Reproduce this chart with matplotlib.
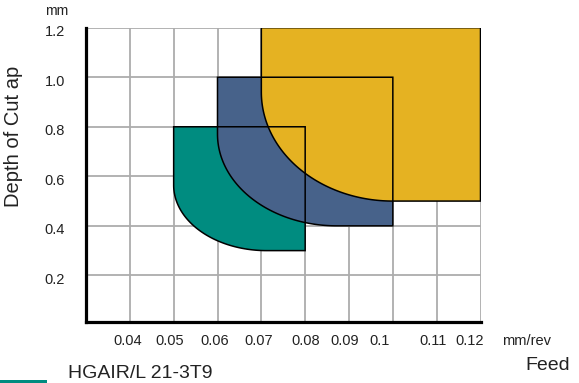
import numpy as np
import matplotlib
matplotlib.use("Agg")
import matplotlib.pyplot as plt
from matplotlib.patches import Polygon, Rectangle
from matplotlib.transforms import ScaledTranslation

plt.rcParams["font.family"] = ["Liberation Sans", "DejaVu Sans"]

# Application areas (feed range, depth range, start of the rounded corner)
grades = ["HGAIR/L 21-3T9", "grade 2", "grade 3"]
feed_min = [0.05, 0.06, 0.07]
feed_max = [0.08, 0.10, 0.12]
depth_min = [0.30, 0.40, 0.50]
depth_max = [0.80, 1.00, 1.20]
corner_feed = [0.0712, 0.0872, 0.100]    # where the arc meets the bottom edge
corner_depth = [0.564, 0.77, 0.94]       # where the arc meets the left edge
colors = ["#008c80", "#47628a", "#e5b222"]

x_ticks = [0.04, 0.05, 0.06, 0.07, 0.08, 0.09, 0.10, 0.11, 0.12]
x_tick_labels = ["0.04", "0.05", "0.06", "0.07", "0.08", "0.09", "0.1", "0.11", "0.12"]
y_ticks = [0.2, 0.4, 0.6, 0.8, 1.0, 1.2]
y_tick_labels = ["0.2", "0.4", "0.6", "0.8", "1.0", "1.2"]


def area_outline(x0, x1, y0, y1, xc, yc):
    # rectangle with the lower-left corner cut by a quarter ellipse
    t = np.linspace(1.5 * np.pi, np.pi, 80)
    rx, ry = xc - x0, yc - y0
    arc_x = xc + rx * np.cos(t)
    arc_y = yc + ry * np.sin(t)
    xs = [x0, x1, x1] + list(arc_x)
    ys = [y1, y1, y0] + list(arc_y)
    return np.column_stack([xs, ys])


fig = plt.figure(figsize=(5.79, 3.83), dpi=100)
ax = fig.add_axes([86 / 579, 1 - 321.7 / 383, (480.5 - 86) / 579, (321.7 - 27.7) / 383])

ax.set_xlim(0.03, 0.12)
ax.set_ylim(0.013, 1.2)

# grid
for x in x_ticks:
    ax.axvline(x, color="#adadad", lw=1.3, zorder=0)
for y in y_ticks:
    ax.axhline(y, color="#adadad", lw=1.3, zorder=0)

# fills first, outlines on top
for i in range(len(grades)):
    pts = area_outline(feed_min[i], feed_max[i], depth_min[i], depth_max[i],
                       corner_feed[i], corner_depth[i])
    ax.add_patch(Polygon(pts, closed=True, facecolor=colors[i], edgecolor="none", zorder=2 + i))
for i in range(len(grades)):
    pts = area_outline(feed_min[i], feed_max[i], depth_min[i], depth_max[i],
                       corner_feed[i], corner_depth[i])
    ax.add_patch(Polygon(pts, closed=True, fill=False, edgecolor="black", lw=1.1, zorder=6))

for s in ["top", "right"]:
    ax.spines[s].set_visible(False)
for s in ["left", "bottom"]:
    ax.spines[s].set_linewidth(2.3)
    ax.spines[s].set_zorder(7)

ax.set_xticks(x_ticks)
ax.set_xticklabels(x_tick_labels, fontsize=10.5)
ax.set_yticks(y_ticks)
ax.set_yticklabels(y_tick_labels, fontsize=10.5)
ax.tick_params(axis="x", length=0, pad=9, colors="#222222")
ax.tick_params(axis="y", length=0, pad=15, colors="#222222")

# hand-placed look of the original labels
x_shift = [-2, -3.5, -3, -3, 1, -4, -13, -4, -11]
for lab, dx in zip(ax.get_xticklabels(), x_shift):
    lab.set_transform(lab.get_transform() + ScaledTranslation(dx / 100, 0, fig.dpi_scale_trans))
for lab in ax.get_yticklabels():
    lab.set_transform(lab.get_transform() + ScaledTranslation(0, -3 / 100, fig.dpi_scale_trans))

fig.text(57 / 579, 1 - 11 / 383, "mm", fontsize=10, ha="center", va="center", color="#222222")
fig.text(502 / 579, 1 - 341 / 383, "mm/rev", fontsize=10.5, ha="left", va="center", color="#222222")
fig.text(570 / 579, 1 - 366 / 383, "Feed", fontsize=14, ha="right", va="center", color="#222222")
fig.text(14 / 579, 1 - 136 / 383, "Depth of Cut ap", fontsize=14.5, rotation=90,
         ha="center", va="center", color="#222222")

# legend entry (cut off at the bottom edge)
fig.patches.append(Rectangle((0, 0), 47 / 579, 3.5 / 383, transform=fig.transFigure,
                             facecolor=colors[0], edgecolor="none"))
fig.text(68 / 579, 1 - 374 / 383, grades[0], fontsize=14, ha="left", va="center", color="#222222")

fig.savefig("out.png", dpi=100)
